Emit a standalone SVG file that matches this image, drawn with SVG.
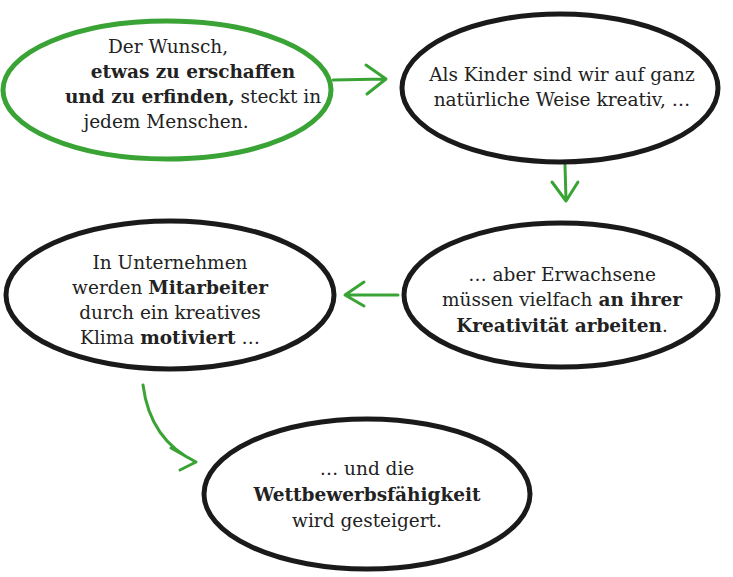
<svg xmlns="http://www.w3.org/2000/svg" width="733" height="577" viewBox="0 0 733 577">
<style>
.n{fill:#fff;stroke:#1a1a1a;stroke-width:5}
.g{stroke:#3aa335}
text{font-family:"DejaVu Serif","Liberation Serif",serif;font-size:18.5px;fill:#222;text-anchor:middle}
.b{font-weight:bold}
.c{fill:none;stroke:#3aa335;stroke-width:3;stroke-linecap:round;stroke-linejoin:round}
</style>
<rect width="733" height="577" fill="#fff"/>
<g id="connectors">
<path class="c" d="M333,80 L385,79 M366,65 L386,79 L367,94"/>
<path class="c" d="M565,165 L566,200 M552,182 L566,201 L578,182"/>
<path class="c" d="M398,295 L346,295 M364,282 L345,295 L364,306"/>
<path class="c" d="M143,385 Q150,440 196,462 M171,448 L196,462 L180,470"/>
</g>
<g id="n1"><ellipse class="n g" cx="167" cy="90" rx="164" ry="69"/>
<text x="168" y="53">Der Wunsch,</text>
<text x="193" y="78" class="b">etwas zu erschaffen</text>
<text x="193" y="103"><tspan class="b">und zu erfinden,</tspan> steckt in</text>
<text x="166" y="128">jedem Menschen.</text></g>
<g id="n2"><ellipse class="n" cx="560" cy="88" rx="158" ry="74"/>
<text x="562" y="81">Als Kinder sind wir auf ganz</text>
<text x="562" y="106">natürliche Weise kreativ, …</text></g>
<g id="n3"><ellipse class="n" cx="561" cy="295" rx="157" ry="72"/>
<text x="562" y="281">… aber Erwachsene</text>
<text x="562" y="306">müssen vielfach <tspan class="b">an ihrer</tspan></text>
<text x="562" y="332"><tspan class="b">Kreativität arbeiten</tspan>.</text></g>
<g id="n4"><ellipse class="n" cx="170" cy="295" rx="164" ry="74"/>
<text x="170" y="269">In Unternehmen</text>
<text x="170" y="294">werden <tspan class="b">Mitarbeiter</tspan></text>
<text x="170" y="319">durch ein kreatives</text>
<text x="170" y="344">Klima <tspan class="b">motiviert</tspan> …</text></g>
<g id="n5"><ellipse class="n" cx="367" cy="494" rx="163" ry="75"/>
<text x="367" y="475">… und die</text>
<text x="367" y="501" class="b">Wettbewerbsfähigkeit</text>
<text x="367" y="527">wird gesteigert.</text></g>
</svg>
